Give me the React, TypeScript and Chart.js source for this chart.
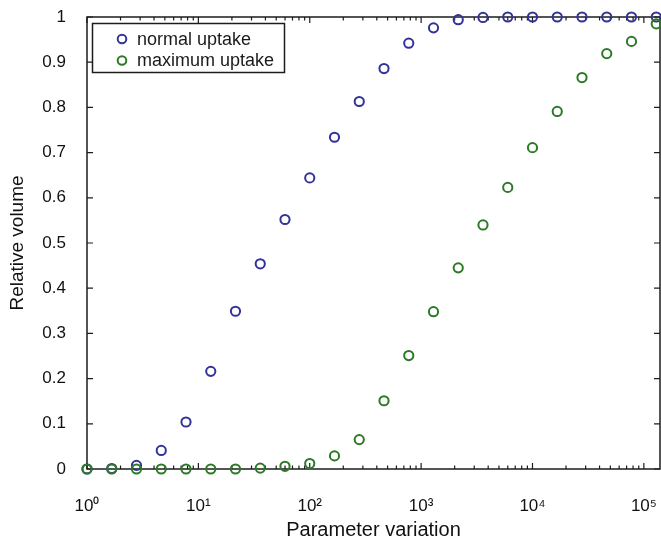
import React, { useEffect, useRef } from "react";
import { Chart, registerables } from "chart.js";

Chart.register(...registerables);

const xValues = [1, 1.668, 2.783, 4.642, 7.743, 12.92, 21.54, 35.94, 59.95, 100, 166.8, 278.3, 464.2, 774.3, 1292, 2154, 3594, 5995, 10000, 16681, 27826, 46416, 77426, 129155];
const normalUptake = [0, 0.001, 0.008, 0.041, 0.104, 0.216, 0.349, 0.454, 0.552, 0.644, 0.734, 0.813, 0.886, 0.942, 0.976, 0.994, 0.999, 1, 1, 1, 1, 1, 1, 1];
const maximumUptake = [0, 0, 0, 0, 0, 0, 0, 0.002, 0.006, 0.012, 0.029, 0.065, 0.151, 0.251, 0.348, 0.445, 0.54, 0.623, 0.711, 0.791, 0.866, 0.919, 0.946, 0.985];
const xTickValues = [1, 10, 100, 1000, 10000, 100000];
const xTickLabels = ["10⁰", "10¹", "10²", "10³", "10⁴", "10⁵"];
const seriesNames = ["normal uptake", "maximum uptake"];

const BLUE = "#32329a";
const GREEN = "#2c7a26";
const AXIS = "#1c1c1c";
const X_MAX = 139600;

const zeroPadding = (scale: any) => {
  scale.paddingLeft = 0;
  scale.paddingRight = 0;
  scale.paddingTop = 0;
  scale.paddingBottom = 0;
};

const framePlugin = {
  id: "frameTicks",
  beforeDatasetsDraw(chart: any) {
    const { ctx, chartArea, scales } = chart;
    const { left, right, top, bottom } = chartArea;
    const xs = scales.x;
    const ys = scales.y;
    ctx.save();
    ctx.strokeStyle = AXIS;
    ctx.lineWidth = 1.5;
    ctx.strokeRect(left, top, right - left, bottom - top);
    ctx.lineWidth = 1.2;
    ctx.beginPath();
    for (let d = 0; d <= 5; d++) {
      for (let m = 1; m <= 9; m++) {
        const v = m * Math.pow(10, d);
        if (v > X_MAX) continue;
        const px = xs.getPixelForValue(v);
        const len = m === 1 ? 6 : 3.5;
        ctx.moveTo(px, bottom);
        ctx.lineTo(px, bottom - len);
        ctx.moveTo(px, top);
        ctx.lineTo(px, top + len);
      }
    }
    for (let i = 0; i <= 10; i++) {
      const py = ys.getPixelForValue(i / 10);
      ctx.moveTo(left, py);
      ctx.lineTo(left + 6, py);
      ctx.moveTo(right, py);
      ctx.lineTo(right - 6, py);
    }
    ctx.stroke();
    ctx.restore();
  },
  afterDraw(chart: any) {
    const { ctx, chartArea } = chart;
    const bx = chartArea.left + 5.5;
    const by = chartArea.top + 6.5;
    ctx.save();
    ctx.fillStyle = "#ffffff";
    ctx.fillRect(bx, by, 192, 49);
    ctx.strokeStyle = AXIS;
    ctx.lineWidth = 1.5;
    ctx.strokeRect(bx, by, 192, 49);
    const colors = [BLUE, GREEN];
    const rows = [by + 15.5, by + 37];
    ctx.font = "18px 'Liberation Sans', Arial, sans-serif";
    ctx.textBaseline = "middle";
    ctx.textAlign = "left";
    for (let i = 0; i < 2; i++) {
      ctx.beginPath();
      ctx.strokeStyle = colors[i];
      ctx.lineWidth = 2;
      ctx.arc(bx + 29.5, rows[i], 4.3, 0, Math.PI * 2);
      ctx.stroke();
      ctx.fillStyle = "#1a1a1a";
      ctx.fillText(seriesNames[i], bx + 44.5, rows[i] + 1);
    }
    ctx.restore();
  },
};

export default function App() {
  const canvasRef = useRef<HTMLCanvasElement | null>(null);

  useEffect(() => {
    document.body.style.margin = "0";
    const canvas = canvasRef.current;
    if (!canvas) return;
    const chart = new Chart(canvas, {
      type: "scatter",
      data: {
        datasets: [
          {
            label: seriesNames[0],
            data: xValues.map((x, i) => ({ x, y: normalUptake[i] })),
            borderColor: BLUE,
            backgroundColor: "rgba(0,0,0,0)",
            pointRadius: 4.6,
            pointBorderWidth: 2,
            order: 1,
            clip: false as any,
          },
          {
            label: seriesNames[1],
            data: xValues.map((x, i) => ({ x, y: maximumUptake[i] })),
            borderColor: GREEN,
            backgroundColor: "rgba(0,0,0,0)",
            pointRadius: 4.6,
            pointBorderWidth: 2,
            order: 0,
            clip: false as any,
          },
        ],
      },
      options: {
        responsive: false,
        animation: false,
        layout: { autoPadding: false, padding: { left: 0, right: 1, top: 17, bottom: 0 } },
        plugins: {
          legend: { display: false },
          tooltip: { enabled: false },
        },
        scales: {
          x: {
            type: "logarithmic",
            min: 1,
            max: X_MAX,
            grid: { display: false, drawTicks: false },
            border: { display: false },
            afterBuildTicks: (scale: any) => {
              scale.ticks = xTickValues.map((v) => ({ value: v, major: true }));
            },
            afterFit: (scale: any) => {
              scale.height = 76;
              zeroPadding(scale);
            },
            ticks: {
              autoSkip: false,
              maxRotation: 0,
              padding: 27,
              color: "#111",
              font: { family: "'Liberation Sans', Arial, sans-serif", size: 17 },
              callback: (value: any) => {
                const idx = xTickValues.indexOf(Number(value));
                return idx >= 0 ? xTickLabels[idx] : "";
              },
            },
            title: {
              display: true,
              text: "Parameter variation",
              color: "#111",
              font: { family: "'Liberation Sans', Arial, sans-serif", size: 20 },
              padding: { top: 0, bottom: 3 },
            },
          },
          y: {
            min: 0,
            max: 1,
            grid: { display: false, drawTicks: false },
            border: { display: false },
            afterFit: (scale: any) => {
              scale.width = 87;
              zeroPadding(scale);
            },
            ticks: {
              stepSize: 0.1,
              padding: 21,
              color: "#111",
              font: { family: "'Liberation Sans', Arial, sans-serif", size: 17 },
              callback: (value: any) => String(Math.round(Number(value) * 10) / 10),
            },
            title: {
              display: true,
              text: "Relative volume",
              color: "#111",
              font: { family: "'Liberation Sans', Arial, sans-serif", size: 19 },
              padding: { top: 6.5, bottom: 0 },
            },
          },
        },
      },
      plugins: [framePlugin],
    });
    return () => chart.destroy();
  }, []);

  return (
    <div style={{ position: "fixed", left: 0, top: 0, width: 661, height: 545, background: "#fff" }}>
      <canvas ref={canvasRef} width={661} height={545} />
    </div>
  );
}
